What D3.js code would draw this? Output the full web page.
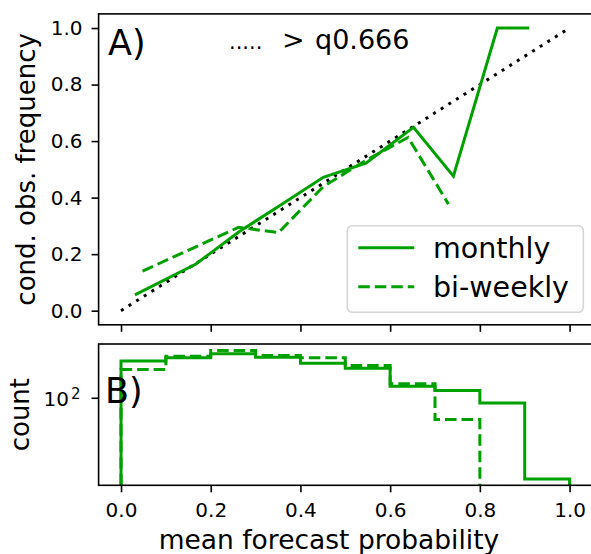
<!DOCTYPE html>
<html>
<head>
<meta charset="utf-8">
<script src="https://cdn.jsdelivr.net/npm/d3@7"></script>
<style>
  body { margin: 0; background: #fff; }
  text { font-family: "DejaVu Sans", sans-serif; fill: #000; }
</style>
</head>
<body>
<svg class="chart"></svg>
<script>
var width = 591, height = 554;
var green = "#00a000";

// A) reliability curves
var monthlyProb = [0.031, 0.167, 0.264, 0.35, 0.451, 0.546, 0.652, 0.741, 0.839, 0.91];
var monthlyFreq = [0.056, 0.165, 0.28, 0.368, 0.472, 0.522, 0.649, 0.476, 1.0, 1.0];
var biweeklyProb = [0.048, 0.262, 0.351, 0.451, 0.547, 0.64, 0.73];
var biweeklyFreq = [0.14, 0.295, 0.276, 0.439, 0.533, 0.613, 0.377];

// B) histogram of forecast probabilities
var binEdges = [0, 0.1, 0.2, 0.3, 0.4, 0.5, 0.6, 0.7, 0.8, 0.9, 1.0];
var monthlyCounts = [802, 972, 1220, 1004, 714, 538, 193, 151, 74, 1];
var biweeklyCounts = [500, 1064, 1472, 1107, 972, 628, 222, 29, 0, 0];

var xTicks = [0, 0.2, 0.4, 0.6, 0.8, 1.0];
var yTicksA = [0, 0.2, 0.4, 0.6, 0.8, 1.0];
var yTicksB = [100];

var boxA = {top: 13.9, bottom: 324.8},
  boxB = {top: 344, bottom: 485.3},
  left = 98.6, right = 592;

var svg = d3.select(".chart")
  .attr("width", width)
  .attr("height", height);

var x = d3.scaleLinear()
  .domain([-0.05, 1.05])
  .range([left, right]);

var yA = d3.scaleLinear()
  .domain([-0.05, 1.05])
  .range([boxA.bottom, boxA.top]);

// log axis limits like matplotlib: data range plus 5% margin (in decades)
var allCounts = monthlyCounts.concat(biweeklyCounts).filter(function(c) { return c > 0; });
var lo = Math.log10(d3.min(allCounts)),
  hi = Math.log10(d3.max(allCounts)),
  pad = (hi - lo) * 0.05;
var yB = d3.scaleLog()
  .domain([Math.pow(10, lo - pad), Math.pow(10, hi + pad)])
  .range([boxB.bottom, boxB.top]);

function styleAxis(g, size) {
  g.select(".domain").remove();
  g.selectAll(".tick line").attr("stroke", "#000").attr("stroke-width", 1.6);
  g.selectAll(".tick text")
    .style("font-family", "DejaVu Sans")
    .style("font-size", size + "px")
    .attr("fill", "#000");
}

/**
  * Panel A
**/
var gA = svg.append("g").attr("class", "panel-a");

gA.append("g")
  .attr("transform", "translate(0," + boxA.bottom + ")")
  .call(d3.axisBottom(x).tickValues(xTicks).tickSize(7).tickFormat(""))
  .call(styleAxis, 20);

gA.append("g")
  .attr("transform", "translate(" + left + ",0)")
  .call(d3.axisLeft(yA).tickValues(yTicksA).tickSize(7).tickPadding(9).tickFormat(d3.format(".1f")))
  .call(styleAxis, 20);

// diagonal
gA.append("path")
  .attr("d", d3.line()([[x(0), yA(0)], [x(1), yA(1)]]))
  .attr("fill", "none")
  .attr("stroke", "#000")
  .attr("stroke-width", 3)
  .attr("stroke-dasharray", "3,6");

var lineA = d3.line()
  .x(function(d) { return x(d[0]); })
  .y(function(d) { return yA(d[1]); });

gA.append("path")
  .attr("d", lineA(d3.zip(monthlyProb, monthlyFreq)))
  .attr("fill", "none")
  .attr("stroke", green)
  .attr("stroke-width", 3);

gA.append("path")
  .attr("d", lineA(d3.zip(biweeklyProb, biweeklyFreq)))
  .attr("fill", "none")
  .attr("stroke", green)
  .attr("stroke-width", 3)
  .attr("stroke-dasharray", "11.5,5");

gA.append("rect")
  .attr("x", left).attr("y", boxA.top)
  .attr("width", right - left).attr("height", boxA.bottom - boxA.top)
  .attr("fill", "none").attr("stroke", "#000").attr("stroke-width", 1.6);

gA.append("text")
  .attr("x", 108).attr("y", 55)
  .style("font-size", "35px")
  .text("A)");

var title = gA.append("text")
  .attr("y", 49);
title.append("tspan").attr("x", 229).style("font-size", "21px").text(".....");
title.append("tspan").attr("x", 282).style("font-size", "27px").text(">");
title.append("tspan").attr("x", 315).style("font-size", "27px").text("q0.666");

gA.append("text")
  .attr("transform", "translate(35," + ((boxA.top + boxA.bottom) / 2) + ") rotate(-90)")
  .attr("text-anchor", "middle")
  .style("font-size", "26px")
  .text("cond. obs. frequency");

// legend
var legend = gA.append("g").attr("class", "legend");
legend.append("rect")
  .attr("x", 347.3).attr("y", 225.7)
  .attr("width", 236).attr("height", 86.6)
  .attr("rx", 5)
  .attr("fill", "#fff").attr("fill-opacity", 0.8)
  .attr("stroke", "#d6d6d6").attr("stroke-width", 1.6);

var legendItems = [{name: "monthly", dash: null, y: 247.7}, {name: "bi-weekly", dash: "11.5,5", y: 286.7}];
legendItems.forEach(function(d) {
  legend.append("line")
    .attr("x1", 358.3).attr("x2", 414.3)
    .attr("y1", d.y).attr("y2", d.y)
    .attr("stroke", green).attr("stroke-width", 3)
    .attr("stroke-dasharray", d.dash);
  legend.append("text")
    .attr("x", 433).attr("y", d.y).attr("dy", "0.36em")
    .style("font-size", "28.5px")
    .text(d.name);
});

/**
  * Panel B
**/
var gB = svg.append("g").attr("class", "panel-b");

gB.append("g")
  .attr("transform", "translate(0," + boxB.bottom + ")")
  .call(d3.axisBottom(x).tickValues(xTicks).tickSize(7).tickPadding(11).tickFormat(d3.format(".1f")))
  .call(styleAxis, 20);

var yAxisB = gB.append("g")
  .attr("transform", "translate(" + left + ",0)")
  .call(d3.axisLeft(yB).tickValues(yTicksB).tickSize(7).tickPadding(11).tickFormat(""))
  .call(styleAxis, 20);

yAxisB.selectAll(".tick text").each(function(d) {
  var t = d3.select(this).attr("dy", null);
  t.append("tspan").attr("dy", "8").text("10");
  t.append("tspan").attr("dx", "2").attr("dy", "-7").style("font-size", "15px").text(Math.round(Math.log10(d)));
});

var floor = yB.domain()[0];

function histPoints(counts) {
  var pts = [[binEdges[0], floor]];
  var last = 0;
  counts.forEach(function(c, i) {
    if (c > 0) {
      pts.push([binEdges[i], c]);
      last = i;
    }
  });
  pts.push([binEdges[last + 1], counts[last]]);
  pts.push([binEdges[last + 1], floor]);
  return pts;
}

var stepLine = d3.line()
  .x(function(d) { return x(d[0]); })
  .y(function(d) { return yB(d[1]); })
  .curve(d3.curveStepAfter);

gB.append("path")
  .attr("d", stepLine(histPoints(biweeklyCounts)))
  .attr("fill", "none")
  .attr("stroke", green)
  .attr("stroke-width", 3)
  .attr("stroke-dasharray", "11.5,5");

gB.append("path")
  .attr("d", stepLine(histPoints(monthlyCounts)))
  .attr("fill", "none")
  .attr("stroke", green)
  .attr("stroke-width", 3);

gB.append("rect")
  .attr("x", left).attr("y", boxB.top)
  .attr("width", right - left).attr("height", boxB.bottom - boxB.top)
  .attr("fill", "none").attr("stroke", "#000").attr("stroke-width", 1.6);

gB.append("text")
  .attr("x", 105).attr("y", 403.3)
  .style("font-size", "35px")
  .text("B)");

gB.append("text")
  .attr("transform", "translate(28.5," + ((boxB.top + boxB.bottom) / 2) + ") rotate(-90)")
  .attr("text-anchor", "middle")
  .style("font-size", "26px")
  .text("count");

svg.append("text")
  .attr("x", 329).attr("y", 548.5)
  .attr("text-anchor", "middle")
  .style("font-size", "26.5px")
  .text("mean forecast probability");
</script>
</body>
</html>
